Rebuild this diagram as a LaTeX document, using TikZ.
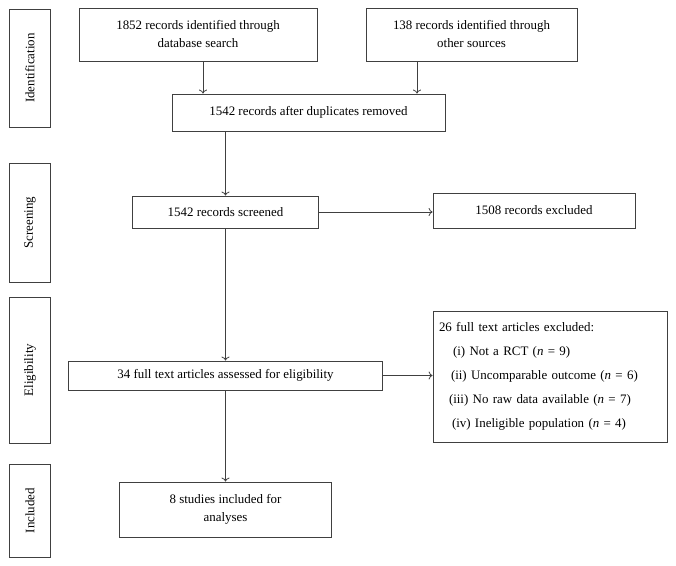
\documentclass[tikz,border=0pt]{standalone}
\usepackage{fontspec}
\setmainfont{Liberation Serif}
\usepackage{tikz}
\usetikzlibrary{positioning}
\usetikzlibrary{arrows.meta}

\begin{document}
\begin{tikzpicture}[x=0.75pt,y=-0.75pt,
	box/.style={draw=black!75,line width=0.6pt,inner sep=2pt,align=center,font=\fontsize{9.7}{13.5}\selectfont},
	stage/.style={box,rotate=90},
	arr/.style={-{To[length=3pt,width=6pt]},draw=black!75,line width=0.6pt}]
	% Define scaling factor (one pixel)
	\def\px{0.75pt}
	\useasboundingbox (0,0) rectangle (676,566);
	
	%stages
	\foreach \name/\y/\h in {Identification/68/118, Screening/222.5/119, Eligibility/370/146, Included/510.5/93} {
		\node[stage,minimum width=\h*\px,minimum height=41*\px] (stage_\name) at (30,\y) {\name};
	}
	
	%identification
	\node[box,minimum width=238*\px,minimum height=53*\px] (db_search) at (198,34.5) {1852 records identified through\\database search};
	\node[box,minimum width=211*\px,minimum height=53*\px] (other_src) at (471.5,34.5) {138 records identified through\\other sources};
	\node[box,minimum width=273*\px,minimum height=37*\px] (dup_removed) at (308.5,112.5) {1542 records after duplicates removed};
	
	%screening
	\node[box,minimum width=186*\px,minimum height=32*\px] (screened) at (225.5,212) {1542 records screened};
	\node[box,minimum width=202*\px,minimum height=35*\px] (excl_records) at (534,210.5) {1508 records excluded};
	
	%eligibility
	\node[box,minimum width=314*\px,minimum height=29*\px] (fulltext) at (225.5,375.5) {34 full text articles assessed for eligibility};
	\node[box,minimum width=234*\px,minimum height=131*\px,text width=222*\px,align=left,font=\fontsize{9.7}{18}\selectfont] (excl_fulltext) at (550,376.5) {26 full text articles excluded:\\
		\hspace*{10.5pt}(i) Not a RCT (\textit{n} = 9)\\
		\hspace*{9pt}(ii) Uncomparable outcome (\textit{n} = 6)\\
		\hspace*{7.5pt}(iii) No raw data available (\textit{n} = 7)\\
		\hspace*{9.75pt}(iv) Ineligible population (\textit{n} = 4)};
	
	%included
	\node[box,minimum width=212*\px,minimum height=55*\px] (included) at (225.5,509.5) {8 studies included for\\analyses};
	
	% Connect boxes
	\draw[arr] ([xshift=5*\px]db_search.south) -- ([xshift=5*\px]db_search.south |- dup_removed.north);
	\draw[arr] ([xshift=-54.5*\px]other_src.south) -- ([xshift=-54.5*\px]other_src.south |- dup_removed.north);
	\draw[arr] (dup_removed.south -| screened.north) -- (screened.north);
	\draw[arr] (screened.east) -- (screened.east -| excl_records.west);
	\draw[arr] (screened.south) -- (fulltext.north);
	\draw[arr] (fulltext.east) -- (fulltext.east -| excl_fulltext.west);
	\draw[arr] (fulltext.south) -- (included.north);

\end{tikzpicture}
\end{document}
